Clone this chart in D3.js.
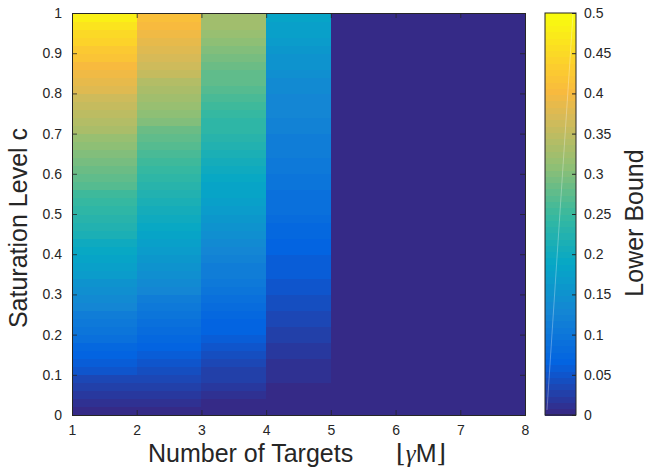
<!DOCTYPE html>
<html>
<head>
<meta charset="utf-8">
<script src="https://cdn.jsdelivr.net/npm/d3@7"></script>
<style>
  body { margin: 0; background: #fff; }
  text { font-family: "Liberation Sans", Arial, sans-serif; fill: #262626; }
</style>
</head>
<body>
<svg id="chart"></svg>
<script>
// saturation level c at the lower edge of each row (cells span c .. c+0.02)
let cLevels = [0.00,0.02,0.04,0.06,0.08,0.10,0.12,0.14,0.16,0.18,
               0.20,0.22,0.24,0.26,0.28,0.30,0.32,0.34,0.36,0.38,
               0.40,0.42,0.44,0.46,0.48,0.50,0.52,0.54,0.56,0.58,
               0.60,0.62,0.64,0.66,0.68,0.70,0.72,0.74,0.76,0.78,
               0.80,0.82,0.84,0.86,0.88,0.90,0.92,0.94,0.96,0.98];
let cTop = 1;

// number of targets at the left edge of each column (cells span n .. n+1)
let targets = [1, 2, 3, 4, 5, 6, 7];
let targetMax = 8;

// lower bound per target count, one value per c level
let lb1 = [0.000,0.009,0.018,0.028,0.037,0.047,0.057,0.067,0.077,0.087,
           0.097,0.107,0.117,0.127,0.137,0.146,0.156,0.166,0.175,0.185,
           0.194,0.203,0.212,0.221,0.230,0.239,0.248,0.257,0.266,0.275,
           0.284,0.293,0.302,0.311,0.320,0.329,0.338,0.347,0.356,0.366,
           0.376,0.386,0.396,0.406,0.417,0.428,0.440,0.453,0.467,0.484];
let lb2 = [0.000,0.008,0.016,0.024,0.032,0.040,0.049,0.057,0.066,0.074,
           0.083,0.091,0.100,0.108,0.117,0.125,0.133,0.142,0.150,0.158,
           0.166,0.174,0.183,0.191,0.199,0.207,0.215,0.223,0.231,0.239,
           0.248,0.256,0.264,0.272,0.280,0.289,0.298,0.307,0.316,0.325,
           0.334,0.343,0.352,0.361,0.370,0.379,0.388,0.397,0.406,0.414];
let lb3 = [0.000,0.006,0.012,0.019,0.025,0.031,0.038,0.044,0.051,0.057,
           0.064,0.070,0.077,0.084,0.090,0.097,0.104,0.110,0.117,0.124,
           0.130,0.137,0.144,0.150,0.157,0.166,0.173,0.180,0.187,0.194,
           0.200,0.207,0.214,0.221,0.228,0.235,0.241,0.248,0.255,0.261,
           0.268,0.275,0.281,0.288,0.295,0.302,0.308,0.315,0.321,0.328];
let lb4 = [0.000,0.002,0.004,0.006,0.009,0.012,0.015,0.018,0.021,0.025,
           0.029,0.033,0.036,0.040,0.043,0.047,0.051,0.055,0.058,0.062,
           0.066,0.070,0.074,0.078,0.082,0.086,0.089,0.092,0.096,0.100,
           0.104,0.107,0.110,0.113,0.116,0.120,0.123,0.126,0.129,0.132,
           0.136,0.140,0.145,0.150,0.155,0.160,0.166,0.172,0.179,0.186];
// 5 or more targets: bound is zero
let lb5 = cLevels.map(() => 0);
let lb6 = cLevels.map(() => 0);
let lb7 = cLevels.map(() => 0);
let lowerBound = [lb1, lb2, lb3, lb4, lb5, lb6, lb7];

let xTicks = [1, 2, 3, 4, 5, 6, 7, 8];
let yTicks = [0, 0.1, 0.2, 0.3, 0.4, 0.5, 0.6, 0.7, 0.8, 0.9, 1];
let cbTicks = [0, 0.05, 0.1, 0.15, 0.2, 0.25, 0.3, 0.35, 0.4, 0.45, 0.5];
let cMin = 0, cMax = 0.5;

// parula-like colormap, 64 steps like matlab
let parulaStops = [0, 0.125, 0.25, 0.375, 0.5, 0.625, 0.75, 0.81, 0.875, 1];
let parulaColors = ['#352a87', '#0363e1', '#1485d4', '#06a7c6', '#38b99e',
                    '#92bf73', '#d9ba56', '#f8ba3e', '#fcce2e', '#f9fb0e'];
let parula = d3.scaleLinear().domain(parulaStops).range(parulaColors)
    .interpolate(d3.interpolateRgb);
let nColors = 64;
function colorOf(v) {
    let idx = Math.floor((v - cMin) / (cMax - cMin) * nColors);
    idx = Math.max(0, Math.min(nColors - 1, idx));
    return parula(idx / (nColors - 1));
}

function makeChart() {
    let w = 647, h = 475;
    let svg = d3.select('#chart').attr('width', w).attr('height', h);

    let xScale = d3.scaleLinear().domain([1, targetMax]).range([72, 525]);
    let yScale = d3.scaleLinear().domain([0, cTop]).range([415, 13]);

    // cells
    let cells = [];
    targets.forEach((n, i) => {
        cLevels.forEach((c, j) => {
            let c1 = j + 1 < cLevels.length ? cLevels[j + 1] : cTop;
            cells.push({n0: n, n1: n + 1, c0: c, c1: c1, v: lowerBound[i][j]});
        });
    });
    svg.append('g')
        .selectAll('rect')
        .data(cells)
        .join('rect')
        .attr('x', d => xScale(d.n0))
        .attr('y', d => yScale(d.c1))
        .attr('width', d => xScale(d.n1) - xScale(d.n0) + 0.5)
        .attr('height', d => yScale(d.c0) - yScale(d.c1) + 0.5)
        .attr('fill', d => colorOf(d.v))
        .attr('shape-rendering', 'crispEdges');

    // axes, ticks inward on all four sides
    let tl = 5;
    let axisColor = '#262626';
    let xAxis = d3.axisBottom(xScale).tickValues(xTicks).tickSize(-tl).tickPadding(10)
        .tickFormat(d3.format('d'));
    let xg = svg.append('g').attr('transform', `translate(0, ${yScale(0)})`).call(xAxis);
    let xTop = d3.axisTop(xScale).tickValues(xTicks).tickSize(-tl);
    let xg2 = svg.append('g').attr('transform', `translate(0, ${yScale(cTop)})`).call(xTop);

    let yAxis = d3.axisLeft(yScale).tickValues(yTicks).tickSize(-tl).tickPadding(10)
        .tickFormat(d => d === 0 || d === 1 ? d3.format('d')(d) : d3.format('.1f')(d));
    let yg = svg.append('g').attr('transform', `translate(${xScale(1)}, 0)`).call(yAxis);
    let yRight = d3.axisRight(yScale).tickValues(yTicks).tickSize(-tl);
    let yg2 = svg.append('g').attr('transform', `translate(${xScale(targetMax)}, 0)`).call(yRight);

    // mirrored axes carry ticks only
    xg2.selectAll('.tick text').remove();
    yg2.selectAll('.tick text').remove();

    [xg, xg2, yg, yg2].forEach(g => {
        g.select('.domain').attr('stroke', axisColor).attr('stroke-width', 1);
        g.selectAll('.tick line').attr('stroke', axisColor).attr('stroke-width', 0.8);
        g.selectAll('.tick text').attr('fill', axisColor)
            .style('font-size', '14px')
            .style('font-family', '"Liberation Sans", Arial, sans-serif');
    });

    // axis titles
    svg.append('text')
        .attr('x', 148).attr('y', 462)
        .style('font-size', '25px')
        .text('Number of Targets');
    let gm = svg.append('text')
        .attr('x', 396).attr('y', 462)
        .style('font-size', '25px');
    gm.append('tspan').style('font-family', '"DejaVu Serif", serif')
        .style('font-weight', '200').text('\u230A');
    gm.append('tspan').style('font-family', '"Liberation Serif", serif')
        .style('font-style', 'italic').text('\u03B3');
    gm.append('tspan').text('M');
    gm.append('tspan').style('font-family', '"DejaVu Serif", serif')
        .style('font-weight', '200').text('\u230B');

    svg.append('text')
        .attr('transform', 'translate(27, 228) rotate(-90)')
        .attr('text-anchor', 'middle')
        .style('font-size', '25px')
        .text('Saturation Level c');

    // colorbar
    let cbX = 545, cbW = 31;
    let cbScale = d3.scaleLinear().domain([cMin, cMax]).range([415, 13]);
    let steps = d3.range(nColors);
    svg.append('g')
        .selectAll('rect')
        .data(steps)
        .join('rect')
        .attr('x', cbX)
        .attr('y', i => cbScale(cMin + (i + 1) * (cMax - cMin) / nColors))
        .attr('width', cbW)
        .attr('height', i => cbScale(cMin + i * (cMax - cMin) / nColors) -
            cbScale(cMin + (i + 1) * (cMax - cMin) / nColors) + 0.5)
        .attr('fill', i => parula(i / (nColors - 1)))
        .attr('shape-rendering', 'crispEdges');

    // faint render artefact across the colorbar
    svg.append('line')
        .attr('x1', 573).attr('y1', 14).attr('x2', 547).attr('y2', 410)
        .attr('stroke', '#fff').attr('stroke-opacity', 0.3).attr('stroke-width', 1);

    let cbAxis = d3.axisRight(cbScale).tickValues(cbTicks).tickSize(-4).tickPadding(8)
        .tickFormat(d => d === 0 ? '0' : String(+d.toFixed(2)));
    let cbg = svg.append('g').attr('transform', `translate(${cbX + cbW}, 0)`).call(cbAxis);
    cbg.select('.domain').remove();
    cbg.selectAll('.tick line').attr('stroke', axisColor);
    cbg.selectAll('.tick text').attr('fill', axisColor)
        .style('font-size', '14px')
        .style('font-family', '"Liberation Sans", Arial, sans-serif');
    svg.append('rect')
        .attr('x', cbX).attr('y', 13).attr('width', cbW).attr('height', 402)
        .attr('fill', 'none').attr('stroke', axisColor).attr('stroke-width', 1);

    svg.append('text')
        .attr('transform', 'translate(643, 223) rotate(-90)')
        .attr('text-anchor', 'middle')
        .style('font-size', '25px')
        .text('Lower Bound');
}

makeChart();
</script>
</body>
</html>
